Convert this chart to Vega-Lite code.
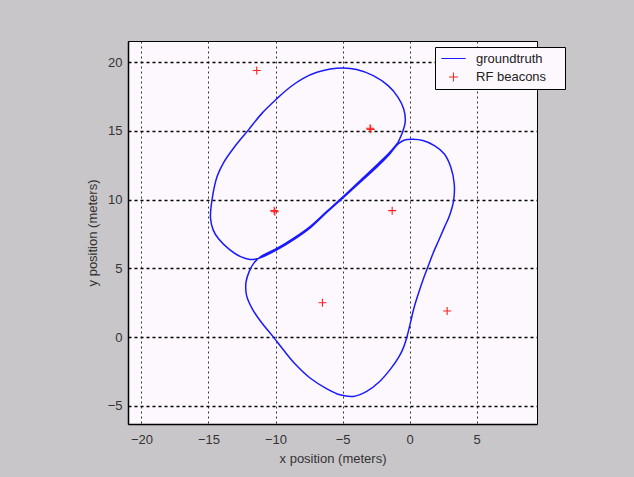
{
  "$schema": "https://vega.github.io/schema/vega-lite/v6.json",
  "width": 409,
  "height": 383,
  "autosize": {"type": "none"},
  "padding": {"left": 128, "top": 41, "right": 97, "bottom": 53},
  "background": "#c9c6ca",
  "config": {
    "view": {"fill": "#fdf8fd", "stroke": "#000", "strokeWidth": 1},
    "font": "Liberation Sans",
    "axis": {
      "labelFont": "Liberation Sans", "labelFontSize": 13, "labelColor": "#333",
      "titleFont": "Liberation Sans", "titleFontSize": 13, "titleFontWeight": "normal", "titleColor": "#333",
      "domainColor": "#000", "domainWidth": 1.5, "ticks": false
    }
  },
  "datasets": {
    "path": [
      {"i": 1, "x": -0.86, "y": 14.17}, {"i": 2, "x": -0.49, "y": 15.02}, {"i": 3, "x": -0.32, "y": 15.75},
      {"i": 4, "x": -0.44, "y": 16.6}, {"i": 5, "x": -0.86, "y": 17.45}, {"i": 6, "x": -1.6, "y": 18.3},
      {"i": 7, "x": -2.71, "y": 19.03}, {"i": 8, "x": -3.95, "y": 19.47}, {"i": 9, "x": -4.93, "y": 19.59},
      {"i": 10, "x": -5.92, "y": 19.51}, {"i": 11, "x": -6.91, "y": 19.27}, {"i": 12, "x": -7.9, "y": 18.85},
      {"i": 13, "x": -8.9, "y": 18.2}, {"i": 14, "x": -9.9, "y": 17.35}, {"i": 15, "x": -11.0, "y": 16.3},
      {"i": 16, "x": -12.0, "y": 15.1}, {"i": 17, "x": -13.05, "y": 13.85}, {"i": 18, "x": -13.9, "y": 12.65},
      {"i": 19, "x": -14.35, "y": 11.7}, {"i": 20, "x": -14.7, "y": 10.2}, {"i": 21, "x": -14.85, "y": 8.7},
      {"i": 22, "x": -14.65, "y": 7.8}, {"i": 23, "x": -14.25, "y": 7.15}, {"i": 24, "x": -13.4, "y": 6.35},
      {"i": 25, "x": -12.6, "y": 5.85}, {"i": 26, "x": -11.9, "y": 5.65}, {"i": 27, "x": -11.4, "y": 5.7},
      {"i": 28, "x": -11.1, "y": 5.78},
      {"i": 29, "x": -9.87, "y": 6.36}, {"i": 30, "x": -8.64, "y": 7.09}, {"i": 31, "x": -7.35, "y": 8.0},
      {"i": 32, "x": -6.17, "y": 9.08}, {"i": 33, "x": -4.93, "y": 10.17}, {"i": 34, "x": -3.7, "y": 11.26},
      {"i": 35, "x": -2.47, "y": 12.35}, {"i": 36, "x": -1.48, "y": 13.33}, {"i": 37, "x": -0.86, "y": 14.05},
      {"i": 38, "x": -0.37, "y": 14.34}, {"i": 39, "x": 0.25, "y": 14.39}, {"i": 40, "x": 0.99, "y": 14.3},
      {"i": 41, "x": 1.85, "y": 13.93}, {"i": 42, "x": 2.59, "y": 13.33}, {"i": 43, "x": 3.08, "y": 12.35},
      {"i": 44, "x": 3.33, "y": 11.14}, {"i": 45, "x": 3.28, "y": 9.93}, {"i": 46, "x": 2.98, "y": 8.85},
      {"i": 47, "x": 2.6, "y": 8.0}, {"i": 48, "x": 2.2, "y": 7.1}, {"i": 49, "x": 1.75, "y": 6.1},
      {"i": 50, "x": 1.4, "y": 5.2}, {"i": 51, "x": 1.05, "y": 4.3}, {"i": 52, "x": 0.7, "y": 3.3},
      {"i": 53, "x": 0.35, "y": 2.2}, {"i": 54, "x": 0.05, "y": 1.0}, {"i": 55, "x": -0.2, "y": 0.0},
      {"i": 56, "x": -0.45, "y": -0.75}, {"i": 57, "x": -0.8, "y": -1.45}, {"i": 58, "x": -1.4, "y": -2.3},
      {"i": 59, "x": -2.25, "y": -3.25}, {"i": 60, "x": -3.2, "y": -3.95}, {"i": 61, "x": -4.2, "y": -4.32},
      {"i": 62, "x": -5.2, "y": -4.2}, {"i": 63, "x": -6.2, "y": -3.75}, {"i": 64, "x": -7.4, "y": -3.0},
      {"i": 65, "x": -8.5, "y": -2.0}, {"i": 66, "x": -9.4, "y": -0.95}, {"i": 67, "x": -10.2, "y": 0.05},
      {"i": 68, "x": -11.0, "y": 1.0}, {"i": 69, "x": -11.7, "y": 2.0}, {"i": 70, "x": -12.15, "y": 3.0},
      {"i": 71, "x": -12.2, "y": 4.0}, {"i": 72, "x": -11.95, "y": 4.8}, {"i": 73, "x": -11.6, "y": 5.4},
      {"i": 74, "x": -11.1, "y": 5.85}, {"i": 75, "x": -9.9, "y": 6.45}, {"i": 76, "x": -8.64, "y": 7.2},
      {"i": 77, "x": -7.35, "y": 8.1}, {"i": 78, "x": -6.17, "y": 9.15}, {"i": 79, "x": -4.93, "y": 10.25},
      {"i": 80, "x": -3.7, "y": 11.38}, {"i": 81, "x": -2.47, "y": 12.5}, {"i": 82, "x": -1.48, "y": 13.45},
      {"i": 83, "x": -0.86, "y": 14.17}
    ],
    "beacons": [
      {"x": -11.4, "y": 19.4, "series": "RF beacons"},
      {"x": -2.95, "y": 15.2, "series": "RF beacons"},
      {"x": -2.9, "y": 15.12, "series": "RF beacons"},
      {"x": -10.1, "y": 9.2, "series": "RF beacons"},
      {"x": -10.05, "y": 9.12, "series": "RF beacons"},
      {"x": -1.3, "y": 9.2, "series": "RF beacons"},
      {"x": -6.5, "y": 2.5, "series": "RF beacons"},
      {"x": 2.8, "y": 1.9, "series": "RF beacons"}
    ]
  },
  "layer": [
    {
      "data": {"name": "path"},
      "mark": {"type": "line", "color": "#1a1aff", "strokeWidth": 1.5, "interpolate": "catmull-rom"},
      "encoding": {
        "x": {"field": "x", "type": "quantitative",
          "scale": {"domain": [-21, 9.5], "nice": false, "zero": false},
          "axis": {"values": [-20, -15, -10, -5, 0, 5], "grid": true, "gridColor": "#333", "gridDash": [2, 3], "gridWidth": 1,
            "labelPadding": 9, "title": "x position (meters)", "titlePadding": 6}},
        "y": {"field": "y", "type": "quantitative",
          "scale": {"domain": [-6.33, 21.55], "nice": false, "zero": false},
          "axis": {"values": [-5, 0, 5, 10, 15, 20], "grid": true, "gridColor": "#000", "gridDash": [3, 3], "gridWidth": 1.3,
            "labelPadding": 6, "title": "y position (meters)", "titlePadding": 8}},
        "order": {"field": "i", "type": "quantitative"}
      }
    },
    {
      "data": {"name": "beacons"},
      "mark": {"type": "point", "filled": false, "strokeWidth": 1.1, "size": 64, "opacity": 1},
      "encoding": {
        "x": {"field": "x", "type": "quantitative"},
        "y": {"field": "y", "type": "quantitative"},
        "color": {"field": "series", "type": "nominal",
          "scale": {"domain": ["groundtruth", "RF beacons"], "range": ["#1a1aff", "#ff2020"]},
          "legend": {"orient": "none", "legendX": 307, "legendY": 6, "title": "\u00a0", "titleOrient": "right", "titlePadding": 14, "titleFontSize": 13, "padding": 5,
            "strokeColor": "#000", "fillColor": "#fdf8fd",
            "symbolSize": 81, "symbolStrokeWidth": 1, "symbolOffset": 7, "labelOffset": 16,
            "labelFont": "Liberation Sans", "labelFontSize": 13, "labelColor": "#222", "rowPadding": 4.5}},
        "shape": {"field": "series", "type": "nominal",
          "scale": {"domain": ["groundtruth", "RF beacons"], "range": ["M -2.7 0 L 2.7 0", "M -1 0 L 1 0 M 0 -1 L 0 1"]},
          "legend": {"orient": "none", "legendX": 307, "legendY": 6, "title": "\u00a0", "titleOrient": "right", "titlePadding": 14, "titleFontSize": 13, "padding": 5,
            "strokeColor": "#000", "fillColor": "#fdf8fd",
            "symbolSize": 81, "symbolStrokeWidth": 1, "symbolOffset": 7, "labelOffset": 16,
            "labelFont": "Liberation Sans", "labelFontSize": 13, "labelColor": "#222", "rowPadding": 4.5}}
      }
    }
  ]
}
